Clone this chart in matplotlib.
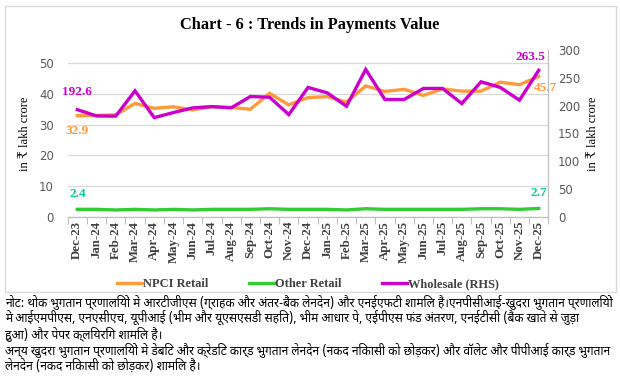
import os
import numpy as np
import matplotlib
matplotlib.use("Agg")
import matplotlib.pyplot as plt
from matplotlib import font_manager

months = ['Dec-23', 'Jan-24', 'Feb-24', 'Mar-24', 'Apr-24', 'May-24', 'Jun-24',
          'Jul-24', 'Aug-24', 'Sep-24', 'Oct-24', 'Nov-24', 'Dec-24', 'Jan-25',
          'Feb-25', 'Mar-25', 'Apr-25', 'May-25', 'Jun-25', 'Jul-25', 'Aug-25',
          'Sep-25', 'Oct-25', 'Nov-25', 'Dec-25']
npci_retail = [32.9, 33.0, 33.2, 36.9, 35.3, 35.8, 34.8, 35.8, 35.6, 35.0, 40.2, 36.4,
               38.8, 39.1, 37.3, 42.6, 40.8, 41.5, 39.5, 41.6, 40.9, 40.9, 43.8, 43.0, 45.7]
other_retail = [2.4, 2.4, 2.2, 2.4, 2.2, 2.4, 2.2, 2.4, 2.4, 2.4, 2.6, 2.4, 2.4, 2.4,
                2.2, 2.6, 2.4, 2.4, 2.4, 2.4, 2.4, 2.6, 2.6, 2.4, 2.7]
wholesale = [192.6, 181.3, 181.0, 226.5, 178.3, 187.4, 195.8, 198.2, 195.8, 216.3, 215.0,
             183.8, 232.6, 222.9, 198.8, 265.0, 210.9, 210.9, 230.8, 230.8, 203.6, 242.8,
             232.6, 209.6, 263.5]

title = 'Chart - 6 : Trends in Payments Value'
ylabel = 'in ₹ lakh crore'
note_lines = [
    'नोट: थोक भुगतान प्रणालियों में आरटीजीएस (ग्राहक और अंतर-बैंक लेनदेन) और एनईएफटी शामिल हैं।एनपीसीआई-खुदरा भुगतान प्रणालियों',
    'में आईएमपीएस, एनएसीएच, यूपीआई (भीम और यूएसएसडी सहित), भीम आधार पे, एईपीएस फंड अंतरण, एनईटीसी (बैंक खाते से जुड़ा',
    'हुआ) और पेपर क्लियरिंग शामिल हैं।',
    'अन्य खुदरा भुगतान प्रणालियों में डेबिट और क्रेडिट कार्ड भुगतान लेनदेन (नकद निकासी को छोड़कर) और वॉलेट और पीपीआई कार्ड भुगतान',
    'लेनदेन (नकद निकासी को छोड़कर) शामिल हैं।',
]

# pick a Devanagari font by file name
deva_font = None
paths = {os.path.basename(p): p for p in font_manager.findSystemFonts()}
for want in ['NotoSansDevanagari-Regular.ttf', 'NotoSansDevanagari[wdth,wght].ttf',
             'Hind-Regular.ttf', 'Mukta-Regular.ttf', 'FreeSans.ttf']:
    if want in paths:
        font_manager.fontManager.addfont(paths[want])
        deva_font = font_manager.FontProperties(fname=paths[want]).get_name()
        break
if deva_font is None:
    for name, p in paths.items():
        if 'Devanagari' in name:
            font_manager.fontManager.addfont(p)
            deva_font = font_manager.FontProperties(fname=p).get_name()
            break

c_npci = '#FF9A3C'
c_other = '#33CC33'
c_whole = '#CC00CC'
c_lab2 = '#00C896'
serif = ['Liberation Serif', 'DejaVu Serif']

fig = plt.figure(figsize=(6.2, 3.79), dpi=100)
ax = fig.add_axes([0.1092, 0.4282, 0.7752, 0.4399])
ax2 = ax.twinx()

x = np.arange(len(months))
ax.plot(x, npci_retail, color=c_npci, lw=2.4, solid_joinstyle='miter', label='NPCI Retail', zorder=3)
ax.plot(x, other_retail, color=c_other, lw=2.4, label='Other Retail', zorder=3)
ax2.plot(x, wholesale, color=c_whole, lw=2.4, solid_joinstyle='miter', label='Wholesale (RHS)', zorder=4)

ax.set_xlim(-0.5, len(months) - 0.5)
ax.set_ylim(0, 54.3)
ax2.set_ylim(0, 300)
ax.set_yticks(np.arange(0, 51, 10))
ax2.set_yticks(np.arange(0, 301, 50))
ax.grid(axis='y', color='#D9D9D9', lw=0.9)
ax.set_axisbelow(True)

ax.set_xticks(x)
ax.set_xticklabels(months, rotation=90, fontfamily=serif, fontweight='bold',
                   fontsize=9.3, color='#404040')
ax.set_xticks(np.arange(-0.5, len(months), 1), minor=True)
ax.tick_params(axis='x', which='major', length=0, pad=3)
ax.tick_params(axis='x', which='minor', length=5, color='#BFBFBF', width=0.8)
ax.tick_params(axis='y', length=0, labelsize=8.5, labelcolor='#595959', pad=10)
ax2.tick_params(axis='y', length=0, labelsize=8.5, labelcolor='#595959', pad=7)

for a in (ax, ax2):
    a.spines['top'].set_visible(False)
    a.spines['left'].set_visible(False)
    a.spines['right'].set_color('#BFBFBF')
    a.spines['bottom'].set_color('#BFBFBF')

ax.set_ylabel(ylabel, fontsize=9, fontfamily=serif, labelpad=6)
ax2.set_ylabel(ylabel, fontsize=9, fontfamily=serif, labelpad=5)

lab = dict(fontfamily=serif, fontweight='bold', fontsize=9.5, ha='center', va='center',
           textcoords='offset points')
ax2.annotate(f'{wholesale[0]:.1f}', (x[0], wholesale[0]), xytext=(0, 12.5), color=c_whole, **lab)
ax.annotate(f'{npci_retail[0]:.1f}', (x[0], npci_retail[0]), xytext=(0, -11), color=c_npci, **lab)
ax.annotate(f'{other_retail[0]:.1f}', (x[0], other_retail[0]), xytext=(0, 11), color=c_lab2, **lab)
ax2.annotate(f'{wholesale[-1]:.1f}', (x[-1], wholesale[-1]), xytext=(-6, 9.5), color=c_whole, **lab)
ax.annotate(f'{npci_retail[-1]:.1f}', (x[-1], npci_retail[-1]), xytext=(5, -8.5), color=c_npci, **lab)
ax.annotate(f'{other_retail[-1]:.1f}', (x[-1], other_retail[-1]), xytext=(0, 11), color=c_lab2, **lab)

h1, l1 = ax.get_legend_handles_labels()
h2, l2 = ax2.get_legend_handles_labels()
fig.legend(h1 + h2, l1 + l2, loc='center', bbox_to_anchor=(0.497, 1 - 284 / 379), ncol=3,
           frameon=False, handlelength=2.0, handletextpad=0.1, columnspacing=3.3,
           prop={'family': serif, 'weight': 'bold', 'size': 8.9}, labelcolor='#404040')

fig.text(0.5, 1 - 25 / 379, title, ha='center', va='center', fontsize=11.8,
         fontweight='bold', fontfamily=serif)

# chart frame
fig.add_artist(plt.Rectangle((5 / 620, 1 - 292 / 379), 611 / 620, 286 / 379,
                             transform=fig.transFigure, fill=False, ec='#D9D9D9', lw=1))

note_family = [deva_font, 'DejaVu Sans'] if deva_font else ['DejaVu Sans']
notes = []
for i, line in enumerate(note_lines):
    notes.append(fig.text(5 / 620, 1 - (302 + i * 15.8) / 379, line, ha='left', va='center',
                          fontsize=8, fontstyle='italic', fontfamily=note_family))

# size the note text so its longest line spans the width, like the reference
fig.canvas.draw()
r = fig.canvas.get_renderer()
widest = max(t.get_window_extent(r).width for t in notes)
scale = min(1.2, 608 / widest)
for t in notes:
    t.set_fontsize(8 * scale)

fig.savefig('out.png', dpi=100)
